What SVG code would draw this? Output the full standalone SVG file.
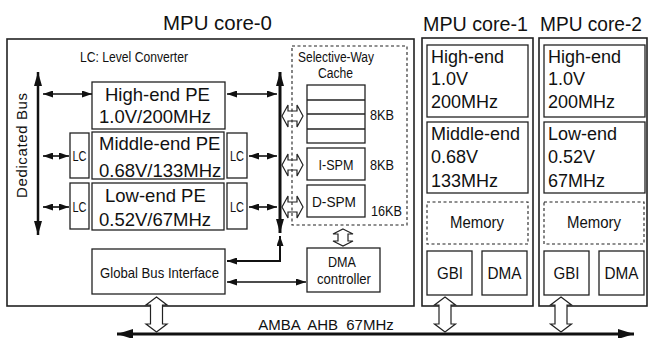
<svg xmlns="http://www.w3.org/2000/svg" width="649" height="338" viewBox="0 0 649 338">
<style>
.box{fill:#fff;stroke:#222;stroke-width:1.3}
.core{fill:#fff;stroke:#222;stroke-width:1.6}
.dash{fill:none;stroke:#222;stroke-width:1.1;stroke-dasharray:3 2.5}
.hol{fill:#fff;stroke:#222;stroke-width:1.2;stroke-linejoin:miter}
.t{font-family:"Liberation Sans",Arial,sans-serif;fill:#111}
.pe{font-size:18.5px}
.pe2{font-size:18px}
.sm{font-size:14px}
.md{font-size:15px}
.ttl{font-size:20px}
.c{text-anchor:middle}
.ar{fill:none;stroke:#111;stroke-width:1.6}
</style>
<defs>
<marker id="ah" viewBox="0 0 10 7" refX="10" refY="3.5" markerUnits="userSpaceOnUse" markerWidth="10" markerHeight="7" orient="auto-start-reverse"><path d="M0,0 L10,3.5 L0,7 z" fill="#111"/></marker>
<marker id="bh" viewBox="0 0 14 8" refX="14" refY="4" markerUnits="userSpaceOnUse" markerWidth="14" markerHeight="8" orient="auto-start-reverse"><path d="M0,0 L14,4 L0,8 z" fill="#111"/></marker>
<marker id="amh" viewBox="0 0 16 10" refX="16" refY="5" markerUnits="userSpaceOnUse" markerWidth="16" markerHeight="10" orient="auto-start-reverse"><path d="M0,0 L16,5 L0,10 z" fill="#111"/></marker>
</defs>

<!-- titles -->
<text class="t ttl" x="163" y="30" textLength="109" lengthAdjust="spacingAndGlyphs">MPU core-0</text>
<text class="t ttl" x="423" y="31" textLength="105" lengthAdjust="spacingAndGlyphs">MPU core-1</text>
<text class="t ttl" x="540" y="31" textLength="102" lengthAdjust="spacingAndGlyphs">MPU core-2</text>

<!-- core 0 -->
<g id="core0">
<rect class="core" x="7" y="39" width="407" height="267"/>
<text class="t sm" x="80" y="62" textLength="108" lengthAdjust="spacingAndGlyphs">LC: Level Converter</text>
<text class="t md c" x="0" y="0" transform="translate(27 145.5) rotate(-90)" textLength="105" lengthAdjust="spacing">Dedicated Bus</text>
</g>

<g id="pe-high">
<rect class="box" x="92" y="82" width="133" height="47"/>
<text class="t pe" x="105" y="100.5">High-end PE</text>
<text class="t pe" x="99" y="123">1.0V/200MHz</text>
</g>
<g id="pe-mid">
<rect class="box" x="92" y="132" width="132" height="47"/>
<text class="t pe" x="99" y="150">Middle-end PE</text>
<text class="t pe" x="99" y="176.5">0.68V/133MHz</text>
</g>
<g id="pe-low">
<rect class="box" x="92" y="183" width="132" height="47"/>
<text class="t pe" x="105" y="202">Low-end PE</text>
<text class="t pe" x="99" y="226">0.52V/67MHz</text>
</g>
<g id="lc-mid-l">
<rect class="box" x="70" y="133" width="19" height="45"/>
<text class="t sm c" x="79.5" y="161" textLength="14" lengthAdjust="spacingAndGlyphs">LC</text>
</g>
<g id="lc-low-l">
<rect class="box" x="70" y="183" width="19" height="46"/>
<text class="t sm c" x="79.5" y="212" textLength="14" lengthAdjust="spacingAndGlyphs">LC</text>
</g>
<g id="lc-mid-r">
<rect class="box" x="227" y="133" width="20" height="45"/>
<text class="t sm c" x="237" y="161" textLength="14" lengthAdjust="spacingAndGlyphs">LC</text>
</g>
<g id="lc-low-r">
<rect class="box" x="227" y="183" width="20" height="46"/>
<text class="t sm c" x="237" y="212" textLength="14" lengthAdjust="spacingAndGlyphs">LC</text>
</g>

<g id="gbi0">
<rect class="box" x="92" y="249" width="133" height="45"/>
<text class="t md" x="100" y="277.5" textLength="119" lengthAdjust="spacingAndGlyphs">Global Bus Interface</text>
</g>
<g id="dma0">
<rect class="box" x="307" y="248" width="73" height="44"/>
<text class="t md c" x="342" y="267" textLength="28" lengthAdjust="spacingAndGlyphs">DMA</text>
<text class="t md c" x="344" y="283.5" textLength="54" lengthAdjust="spacingAndGlyphs">controller</text>
</g>

<!-- hollow arrows bus to cache (under dashed box) -->
<g id="hollow-cache">
<polygon class="hol" points="282,116 288,105 288,111 297,111 297,105 303,116 297,127 297,121 288,121 288,127"/>
<polygon class="hol" points="282,165 288,154 288,160 297,160 297,154 303,165 297,176 297,170 288,170 288,176"/>
<polygon class="hol" points="282,207 288,196 288,202 297,202 297,196 303,207 297,218 297,212 288,212 288,218"/>
</g>

<g id="cache">
<rect class="dash" x="292" y="46" width="115" height="179"/>
<text class="t sm c" x="336" y="62" textLength="76" lengthAdjust="spacingAndGlyphs">Selective-Way</text>
<text class="t sm c" x="335.5" y="78" textLength="35" lengthAdjust="spacingAndGlyphs">Cache</text>
<rect class="box" x="307" y="85" width="58" height="58"/>
<line class="box" x1="307" y1="100" x2="365" y2="100"/>
<line class="box" x1="307" y1="114" x2="365" y2="114"/>
<line class="box" x1="307" y1="129" x2="365" y2="129"/>
<text class="t md" x="370" y="120" textLength="24" lengthAdjust="spacingAndGlyphs">8KB</text>
</g>
<g id="ispm">
<rect class="box" x="307" y="148" width="58" height="32"/>
<text class="t md c" x="336" y="170" textLength="35" lengthAdjust="spacingAndGlyphs">I-SPM</text>
<text class="t md" x="370" y="170" textLength="24" lengthAdjust="spacingAndGlyphs">8KB</text>
</g>
<g id="dspm">
<rect class="box" x="307" y="185" width="58" height="32"/>
<text class="t md c" x="334" y="207" textLength="44" lengthAdjust="spacingAndGlyphs">D-SPM</text>
<text class="t md" x="371" y="216" textLength="31" lengthAdjust="spacingAndGlyphs">16KB</text>
</g>

<!-- core 1 -->
<g id="core1">
<rect class="core" x="422" y="38" width="111" height="268"/>
</g>
<g id="c1-high">
<rect class="box" x="427" y="45" width="101" height="72"/>
<text class="t pe2" x="431" y="63">High-end</text>
<text class="t pe2" x="431" y="85">1.0V</text>
<text class="t pe2" x="431" y="108">200MHz</text>
</g>
<g id="c1-mid">
<rect class="box" x="427" y="122" width="101" height="71"/>
<text class="t pe2" x="431" y="140">Middle-end</text>
<text class="t pe2" x="431" y="163">0.68V</text>
<text class="t pe2" x="431" y="187">133MHz</text>
</g>
<g id="c1-mem">
<rect class="dash" x="427" y="202" width="101" height="42"/>
<text class="t c" style="font-size:16px" x="477" y="228" textLength="54" lengthAdjust="spacingAndGlyphs">Memory</text>
</g>
<g id="c1-gbi">
<rect class="box" x="427" y="251" width="45" height="44"/>
<text class="t c" style="font-size:16px" x="450" y="279" textLength="26" lengthAdjust="spacingAndGlyphs">GBI</text>
</g>
<g id="c1-dma">
<rect class="box" x="482" y="251" width="45" height="44"/>
<text class="t c" style="font-size:16px" x="504.5" y="279" textLength="34" lengthAdjust="spacingAndGlyphs">DMA</text>
</g>

<!-- core 2 -->
<g id="core2">
<rect class="core" x="539" y="38" width="108" height="268"/>
</g>
<g id="c2-high">
<rect class="box" x="544" y="45" width="101" height="72"/>
<text class="t pe2" x="548" y="63">High-end</text>
<text class="t pe2" x="548" y="85">1.0V</text>
<text class="t pe2" x="548" y="108">200MHz</text>
</g>
<g id="c2-low">
<rect class="box" x="544" y="122" width="101" height="71"/>
<text class="t pe2" x="548" y="140">Low-end</text>
<text class="t pe2" x="548" y="163">0.52V</text>
<text class="t pe2" x="548" y="187">67MHz</text>
</g>
<g id="c2-mem">
<rect class="dash" x="544" y="202" width="100" height="42"/>
<text class="t c" style="font-size:16px" x="594" y="228" textLength="54" lengthAdjust="spacingAndGlyphs">Memory</text>
</g>
<g id="c2-gbi">
<rect class="box" x="544" y="251" width="45" height="44"/>
<text class="t c" style="font-size:16px" x="566.5" y="279" textLength="26" lengthAdjust="spacingAndGlyphs">GBI</text>
</g>
<g id="c2-dma">
<rect class="box" x="599" y="251" width="45" height="44"/>
<text class="t c" style="font-size:16px" x="621.5" y="279" textLength="34" lengthAdjust="spacingAndGlyphs">DMA</text>
</g>

<!-- connectors -->
<g id="connectors">
<line x1="38" y1="235" x2="38" y2="72" stroke="#111" stroke-width="2.5" marker-start="url(#bh)" marker-end="url(#bh)"/>
<line class="ar" x1="43" y1="94" x2="92" y2="94" marker-start="url(#ah)" marker-end="url(#ah)"/>
<line class="ar" x1="43" y1="156" x2="69" y2="156" marker-start="url(#ah)" marker-end="url(#ah)"/>
<line class="ar" x1="43" y1="207" x2="69" y2="207" marker-start="url(#ah)" marker-end="url(#ah)"/>
<line x1="280" y1="233" x2="280" y2="72" stroke="#111" stroke-width="3" marker-start="url(#bh)" marker-end="url(#bh)"/>
<line class="ar" x1="227" y1="94" x2="277" y2="94" marker-start="url(#ah)" marker-end="url(#ah)"/>
<line class="ar" x1="249" y1="156" x2="277" y2="156" marker-start="url(#ah)" marker-end="url(#ah)"/>
<line class="ar" x1="249" y1="207" x2="277" y2="207" marker-start="url(#ah)" marker-end="url(#ah)"/>
<polyline points="280,236 280,261 227,261" fill="none" stroke="#111" stroke-width="2" marker-start="url(#ah)" marker-end="url(#ah)"/>
<line class="ar" x1="227" y1="282" x2="306" y2="282" marker-start="url(#ah)" marker-end="url(#ah)"/>
<polygon class="hol" points="343,229 353,234 348,234 348,241 353,241 343,246 333,241 338,241 338,234 333,234"/>
<line x1="117" y1="334" x2="634" y2="334" stroke="#111" stroke-width="3" marker-start="url(#amh)" marker-end="url(#amh)"/>
<polygon class="hol" points="156.5,297 167,305 162.5,305 162.5,324 167,324 156.5,332 146,324 150.5,324 150.5,305 146,305"/>
<polygon class="hol" points="445,297 455.5,305 451,305 451,324 455.5,324 445,332 434.5,324 439,324 439,305 434.5,305"/>
<polygon class="hol" points="561,297 571.5,305 567,305 567,324 571.5,324 561,332 550.5,324 555,324 555,305 550.5,305"/>
</g>
<text class="t c" style="font-size:15px;word-spacing:4px" x="326" y="330">AMBA AHB 67MHz</text>
</svg>
